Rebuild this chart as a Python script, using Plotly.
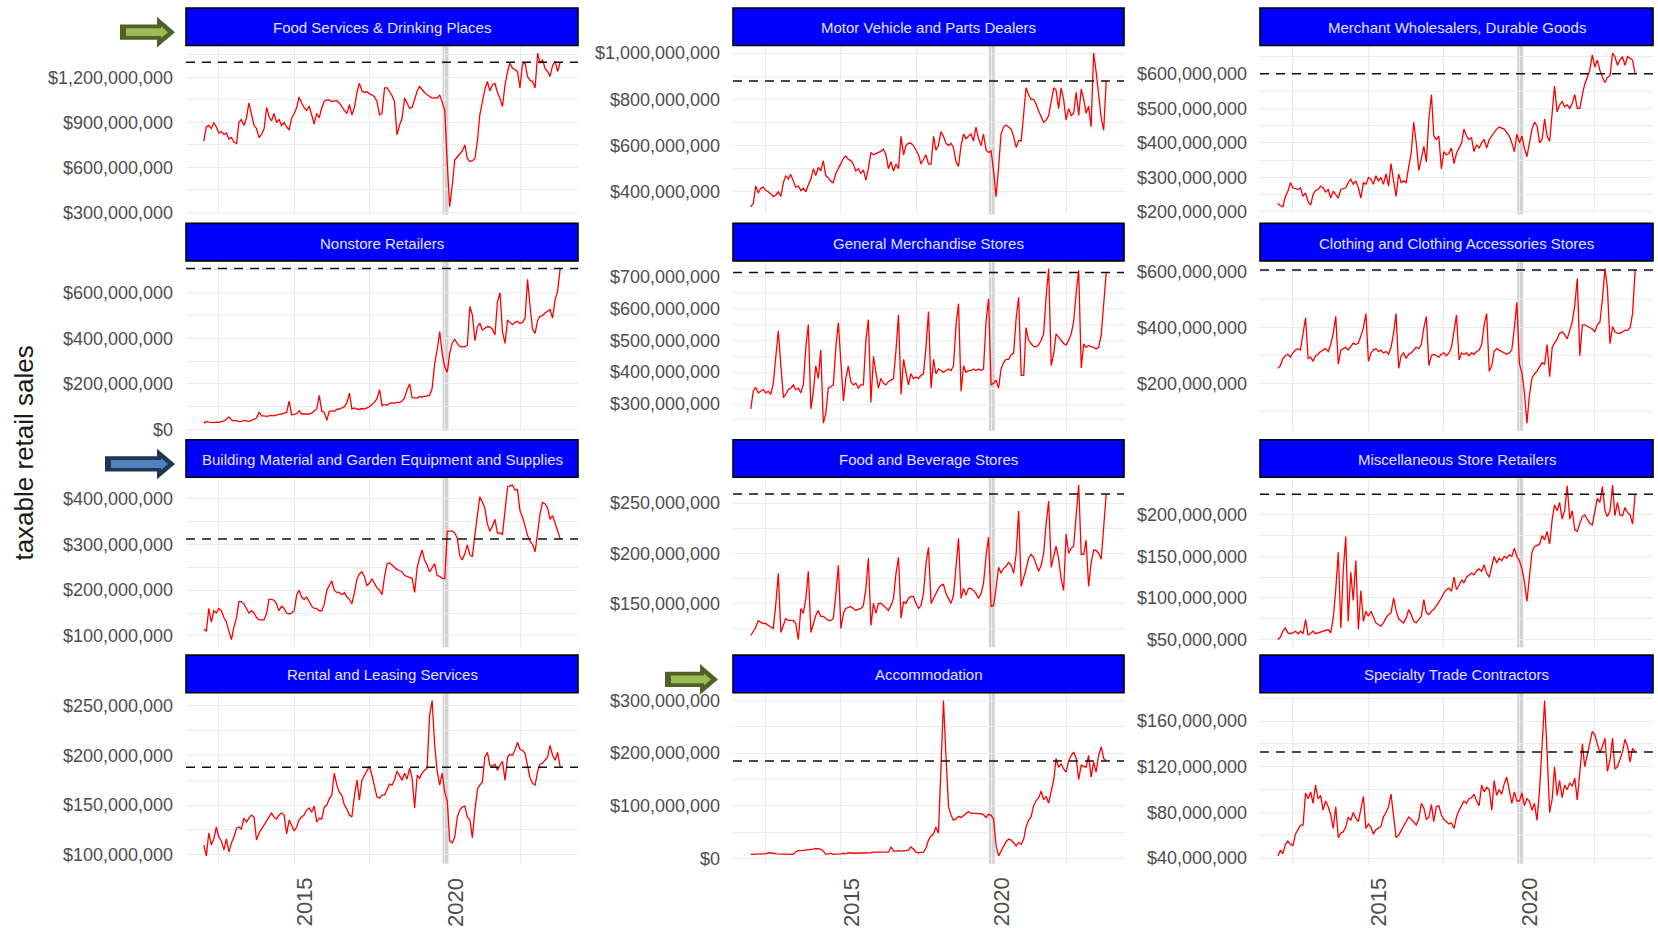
import pandas as pd
import plotly.graph_objects as go

W, H = 1658, 928

# Monthly observations, Jan 2012 .. Nov 2023
MONTHS = pd.date_range("2012-01-01", "2023-11-01", freq="MS")

PANEL_TITLES = [
    "Food Services & Drinking Places",
    "Motor Vehicle and Parts Dealers",
    "Merchant Wholesalers, Durable Goods",
    "Nonstore Retailers",
    "General Merchandise Stores",
    "Clothing and Clothing Accessories Stores",
    "Building Material and Garden Equipment and Supplies",
    "Food and Beverage Stores",
    "Miscellaneous Store Retailers",
    "Rental and Leasing Services",
    "Accommodation",
    "Specialty Trade Contractors",
]

# taxable retail sales, millions of dollars, one row per year
food_services = [
    775, 870, 880, 860, 900, 870, 830, 840, 820, 830, 790, 800,
    770, 760, 900, 920, 880, 930, 1030, 960, 880, 860, 800, 820,
    860, 1000, 940, 910, 960, 900, 920, 880, 900, 870, 850, 930,
    960, 1000, 1070, 1030, 1000, 980, 1010, 950, 890, 960, 930, 1000,
    1040, 1050, 1050, 1040, 1040, 1045, 1030, 1000, 980, 960, 1020, 950,
    1000, 1100, 1162, 1110, 1100, 1106, 1090, 1084, 1070, 1040, 950, 960,
    1130, 1130, 1106, 1080, 1040, 817, 880, 928, 1062, 1030, 995, 1000,
    1060, 1110, 1140, 1118, 1100, 1084, 1070, 1062, 1065, 1062, 1084, 1040,
    984, 620, 338, 480, 650, 670, 690, 710, 750, 660, 640, 645,
    660, 780, 950, 1030, 1120, 1173, 1110, 1150, 1160, 1100, 1060, 1006,
    1150, 1240, 1295, 1262, 1250, 1240, 1130, 1290, 1295, 1207, 1180, 1173,
    1130, 1362, 1295, 1318, 1260, 1240, 1207, 1280, 1307, 1240, 1302,
]
motor_vehicle = [
    335, 350, 425, 395, 415, 420, 405, 400, 390, 380, 385, 400,
    380, 440, 470, 455, 475, 450, 420, 425, 405, 415, 400, 430,
    455, 500, 470, 505, 490, 535, 470, 460, 445, 440, 480, 500,
    520, 545, 555, 540, 535, 520, 490, 500, 480, 495, 450, 500,
    570, 560, 565, 570, 575, 585, 560, 500, 530, 490, 520, 500,
    640, 560, 600, 610, 610, 600, 580, 560, 520, 540, 560, 520,
    520, 640, 580, 600, 660, 640, 610, 600, 610, 590, 530, 510,
    600, 650, 630, 640, 650, 620, 680, 630, 600, 650, 580, 570,
    577, 489, 378, 504, 651, 680, 689, 680, 670, 640, 592, 622,
    620, 740, 850, 820, 800, 800, 780, 750, 720, 700, 710, 730,
    790, 850, 840, 760, 850, 800, 710, 760, 730, 740, 830, 730,
    845, 800, 740, 770, 681, 1000, 920, 820, 720, 666, 880,
]
merchant_durable = [
    225, 218, 215, 245, 260, 285, 270, 268, 265, 270, 245, 255,
    230, 220, 250, 262, 265, 275, 270, 258, 265, 240, 260, 250,
    240, 265, 268, 270, 285, 295, 280, 290, 270, 240, 285, 280,
    300, 295, 280, 305, 290, 300, 280, 310, 275, 340, 290, 245,
    310, 285, 290, 285, 330, 370, 460, 400, 320, 350, 390, 345,
    470, 540, 420, 410, 420, 325, 375, 365, 370, 385, 340, 370,
    385, 400, 440, 420, 410, 415, 375, 395, 385, 400, 410, 385,
    410, 420, 430, 440, 446, 444, 440, 430, 420, 400, 375, 425,
    400, 420, 385, 360, 400, 440, 460, 450, 400, 410, 470, 420,
    405, 500, 565, 490, 510, 520, 505, 510, 500, 515, 540, 500,
    500, 540, 570, 590, 610, 655, 620, 640, 610, 590, 575, 590,
    595, 660, 650, 625, 640, 650, 625, 650, 645, 640, 600,
]
nonstore = [
    28, 35, 32, 30, 30, 32, 31, 35, 38, 45, 55, 42,
    38, 40, 35, 36, 40, 38, 35, 40, 45, 50, 75, 60,
    60, 58, 60, 62, 60, 64, 66, 68, 70, 75, 125, 65,
    66, 70, 82, 68, 68, 68, 68, 72, 80, 90, 150, 80,
    75, 40, 80, 82, 80, 88, 90, 95, 100, 118, 160, 90,
    95, 90, 88, 92, 90, 95, 100, 110, 120, 135, 175, 105,
    110, 105, 115, 118, 115, 120, 118, 125, 140, 175, 200, 140,
    140, 138, 145, 142, 145, 148, 150, 180, 289, 350, 430, 333,
    274, 252, 333, 380, 395, 378, 365, 363, 363, 370, 540, 503,
    390, 452, 466, 437, 445, 452, 450, 440, 415, 560, 600, 430,
    378, 481, 470, 460, 470, 475, 465, 470, 490, 659, 540, 440,
    422, 480, 496, 500, 511, 520, 526, 489, 570, 607, 706,
]
general_merch = [
    285, 340, 352, 335, 340, 345, 335, 340, 330, 365, 450, 530,
    420, 320, 330, 345, 350, 360, 345, 350, 335, 360, 480, 549,
    285, 340, 420, 380, 470, 240, 270, 350, 355, 360, 480, 555,
    430, 310, 380, 420, 370, 360, 365, 350, 360, 360, 500, 565,
    305, 450, 400, 350, 380, 365, 360, 370, 375, 380, 470, 580,
    330, 440, 400, 360, 395, 380, 385, 380, 390, 395, 480, 590,
    350, 440, 395, 410, 405, 400, 405, 410, 405, 420, 550, 615,
    340, 420, 400, 405, 405, 410, 405, 410, 405, 410, 560, 630,
    360, 365, 375, 350, 410, 430, 440, 440, 455, 460, 570, 635,
    390, 390, 540, 500, 490, 480, 480, 485, 500, 520, 640, 725,
    420, 460, 520, 510, 500, 490, 485, 500, 520, 560, 650, 720,
    413, 489, 478, 484, 480, 478, 473, 478, 516, 620, 713,
]
clothing = [
    255, 265, 290, 300, 305, 295, 310, 320, 325, 320, 380, 435,
    290, 295, 280, 300, 305, 315, 320, 325, 315, 340, 380, 440,
    270, 320, 325, 330, 320, 335, 345, 340, 345, 370, 400, 450,
    280, 310, 320, 325, 315, 320, 310, 315, 305, 330, 380, 450,
    255, 300, 310, 290, 305, 310, 320, 330, 325, 340, 400, 440,
    265, 300, 305, 300, 295, 305, 310, 300, 310, 330, 390, 445,
    285, 310, 305, 310, 300, 310, 305, 315, 320, 340, 410, 450,
    245, 265, 315, 325, 320, 315, 310, 305, 310, 320, 400, 490,
    270, 240, 170, 60, 160, 220, 235, 245, 260, 275, 270, 340,
    225, 330, 345, 360, 380, 385, 375, 360, 390, 420, 480, 575,
    300, 410, 410, 405, 400, 395, 385, 410, 420, 500, 610, 540,
    343, 404, 385, 380, 379, 385, 391, 390, 400, 450, 605,
]
building = [
    115, 110, 160, 130, 155, 150, 160, 155, 140, 130, 110, 92,
    120, 140, 175, 175, 170, 160, 150, 155, 150, 140, 135, 135,
    135, 150, 180, 180, 178, 170, 155, 165, 160, 150, 148, 150,
    155, 190, 200, 185, 180, 185, 175, 165, 160, 160, 155, 155,
    170, 200, 210, 220, 200, 195, 195, 190, 195, 185, 180, 170,
    195, 225, 235, 240, 230, 210, 215, 225, 215, 205, 200, 190,
    230, 258, 260, 255, 252, 245, 243, 240, 232, 230, 228, 226,
    195, 250, 270, 288, 266, 255, 240, 250, 258, 232, 230, 226,
    225, 329, 329, 329, 325, 314, 275, 266, 280, 299, 277, 273,
    322, 360, 404, 393, 380, 345, 329, 340, 355, 325, 325, 322,
    377, 426, 428, 430, 419, 420, 374, 360, 340, 320, 307, 300,
    284, 325, 366, 392, 389, 380, 355, 363, 348, 330, 312,
]
food_beverage = [
    118, 122, 126, 133, 131, 130, 130, 128, 126, 125, 150, 180,
    121, 128, 135, 133, 133, 133, 130, 114, 145, 140, 155, 182,
    121, 130, 138, 143, 137, 137, 135, 133, 133, 135, 160, 188,
    125, 140, 145, 146, 147, 145, 143, 144, 145, 148, 165, 195,
    128, 150, 140, 150, 150, 148, 145, 143, 148, 155, 180, 196,
    135, 152, 150, 155, 157, 157, 150, 145, 148, 160, 190, 206,
    150, 155, 160, 165, 168, 169, 160, 155, 150, 158, 190, 215,
    155, 165, 158, 165, 165, 163, 160, 155, 160, 170, 197, 216,
    147, 148, 165, 186, 180, 185, 187, 191, 188, 180, 200, 242,
    167, 175, 184, 195, 199, 196, 190, 182, 188, 200, 230, 252,
    186, 197, 207, 195, 175, 163, 219, 200, 205, 207, 240, 268,
    199, 199, 213, 167, 190, 203, 203, 200, 194, 230, 259,
]
misc_stores = [
    50, 53, 60, 64, 58, 57, 58, 60, 57, 60, 57, 74,
    55, 58, 60, 57, 58, 59, 60, 61, 62, 58, 76, 110,
    155, 64, 131, 174, 72, 131, 97, 145, 62, 109, 72, 84,
    78, 84, 78, 70, 68, 66, 70, 76, 80, 82, 100, 85,
    75, 72, 70, 76, 86, 80, 72, 70, 74, 78, 98, 82,
    80, 84, 86, 90, 95, 100, 106, 110, 112, 108, 125, 110,
    115, 122, 118, 125, 128, 130, 128, 133, 135, 132, 140, 130,
    125, 140, 150, 142, 148, 145, 150, 148, 152, 150, 160, 150,
    145, 135, 120, 96, 122, 155, 162, 163, 165, 175, 170, 180,
    165, 195, 212, 205, 215, 195, 205, 235, 195, 205, 182, 180,
    190, 198, 200, 195, 190, 188, 205, 220, 215, 234, 205, 198,
    205, 236, 199, 215, 200, 199, 209, 203, 200, 189, 225,
]
rental_leasing = [
    110, 99, 122, 110, 116, 128, 118, 114, 105, 116, 103, 112,
    118, 127, 128, 126, 137, 133, 137, 140, 138, 115, 122, 126,
    131, 135, 138, 142, 138, 136, 140, 142, 140, 121, 135, 130,
    124, 128, 135, 138, 140, 145, 147, 143, 149, 133, 137, 136,
    148, 150, 156, 160, 182, 170, 163, 160, 150, 146, 140, 138,
    160, 175, 155, 175, 180, 185, 189, 180, 170, 158, 157, 160,
    160, 165, 171, 170, 175, 184, 180, 175, 182, 176, 187, 177,
    147, 180, 177, 182, 185, 187, 240, 255, 210, 184, 170, 182,
    163, 154, 114, 112, 118, 138, 145, 148, 149, 138, 135, 117,
    145, 166, 170, 173, 198, 203, 190, 189, 191, 185, 190, 194,
    175, 198, 201, 200, 205, 213, 206, 205, 202, 191, 177, 172,
    170, 184, 191, 192, 195, 198, 210, 200, 195, 203, 188,
]
accommodation = [
    8, 8, 8, 8, 8, 8, 9, 11, 11, 10, 9, 9,
    8, 8, 8, 8, 8, 8, 13, 15, 15, 15, 16, 17,
    17, 18, 19, 19, 18, 14, 8, 9, 10, 8, 8, 9,
    9, 10, 9, 11, 10, 10, 10, 10, 10, 10, 11, 11,
    11, 12, 12, 11, 11, 12, 12, 12, 22, 14, 14, 15,
    14, 14, 15, 16, 22, 18, 12, 11, 12, 12, 20, 35,
    43, 47, 60, 48, 170, 300, 195, 99, 82, 73, 75, 80,
    78, 82, 86, 89, 86, 86, 86, 85, 85, 83, 78, 84,
    82, 75, 25, 5, 15, 25, 32, 37, 35, 30, 24, 30,
    27, 37, 60, 73, 79, 100, 110, 115, 128, 112, 118, 105,
    131, 150, 190, 173, 180, 170, 164, 185, 196, 202, 190, 150,
    177, 175, 173, 196, 154, 183, 164, 196, 212, 190, 185,
]
specialty_trade = [
    42, 47, 44, 52, 55, 52, 51, 61, 65, 69, 69, 97,
    92, 98, 88, 104, 92, 95, 82, 90, 85, 78, 66, 85,
    58, 62, 63, 67, 76, 73, 80, 75, 72, 84, 94, 66,
    70, 67, 61, 65, 66, 68, 76, 80, 85, 96, 78, 58,
    60, 64, 68, 72, 76, 74, 71, 69, 74, 88, 84, 74,
    76, 87, 72, 85, 86, 78, 74, 72, 70, 71, 66, 76,
    82, 86, 90, 88, 92, 93, 96, 90, 86, 104, 98, 102,
    100, 82, 108, 95, 100, 96, 105, 111, 100, 88, 98, 90,
    90, 97, 86, 92, 90, 82, 88, 73, 100, 140, 178, 133,
    80, 92, 120, 95, 108, 93, 104, 100, 106, 103, 110, 91,
    118, 140, 120, 130, 142, 151, 148, 140, 132, 138, 145, 116,
    126, 145, 118, 120, 127, 133, 144, 138, 124, 136, 133,
]

SERIES = [
    food_services, motor_vehicle, merchant_durable,
    nonstore, general_merch, clothing,
    building, food_beverage, misc_stores,
    rental_leasing, accommodation, specialty_trade,
]

# y-axis breaks per panel, millions of dollars
Y_BREAKS = [
    [300, 600, 900, 1200],
    [400, 600, 800, 1000],
    [200, 300, 400, 500, 600],
    [0, 200, 400, 600],
    [300, 400, 500, 600, 700],
    [200, 400, 600],
    [100, 200, 300, 400],
    [150, 200, 250],
    [50, 100, 150, 200],
    [100, 150, 200, 250],
    [0, 100, 200, 300],
    [40, 80, 120, 160],
]

X_BREAK_YEARS = [2015, 2020]
X_MINOR_DATES = ["2012-07-02", "2017-07-02", "2022-07-02"]
EVENT_DATE = "2020-01-10"

# marker arrows beside selected panels: (panel index, style)
HIGHLIGHTS = [(0, "green"), (6, "blue"), (10, "green")]

# ---- page geometry (pixels) ----
COL_X = [(186, 578), (733, 1124), (1260, 1653)]
ROW_Y = [(6, 44, 215), (224, 262, 434), (443, 481, 653), (661, 699, 872)]

FONT = "Liberation Sans, Arial, sans-serif"
GRID = "#EBEBEB"
TEXT_GREY = "#4D4D4D"


def px(x):
    return x / W


def py(y):
    return 1 - y / H


def path(points):
    return "M " + " L ".join(f"{px(x):.5f},{py(y):.5f}" for x, y in points) + " Z"


def arrow_points(x0, x1, y0, y1, shaft_frac=0.5, head_len=18):
    yc = (y0 + y1) / 2
    half = (y1 - y0) * shaft_frac / 2
    xh = x1 - head_len
    return [(x0, yc - half), (xh, yc - half), (xh, y0), (x1, yc),
            (xh, y1), (xh, yc + half), (x0, yc + half)]


def expand(lo, hi, frac=0.05):
    d = (hi - lo) * frac
    return lo - d, hi + d


fig = go.Figure()
shapes, annotations = [], []

t0, t1 = MONTHS[0], MONTHS[-1]
pad = (t1 - t0) * 0.05
x_range = [t0 - pad, t1 + pad]

for i, (title, vals, breaks) in enumerate(zip(PANEL_TITLES, SERIES, Y_BREAKS)):
    r, c = divmod(i, 3)
    n = i + 1
    xa = "x" if n == 1 else f"x{n}"
    ya = "y" if n == 1 else f"y{n}"
    cx0, cx1 = COL_X[c]
    s_top, p_top, p_bot = ROW_Y[r]

    y_dollars = [v * 1e6 for v in vals]
    last = y_dollars[-1]
    lo, hi = expand(min(y_dollars), max(y_dollars))

    fig.add_trace(go.Scatter(
        x=MONTHS, y=y_dollars, mode="lines",
        line=dict(color="#FF0000", width=1.3),
        xaxis=xa, yaxis=ya, showlegend=False, hoverinfo="skip",
    ))

    step = breaks[1] - breaks[0]
    minor = [b - step / 2 for b in breaks] + [breaks[-1] + step / 2]

    fig.layout[f"xaxis{'' if n == 1 else n}"] = dict(
        domain=[px(cx0), px(cx1)], anchor=ya, type="date", range=x_range,
        tickmode="array",
        tickvals=[f"{yr}-01-01" for yr in X_BREAK_YEARS],
        showticklabels=False, ticks="",
        showgrid=True, gridcolor=GRID, gridwidth=1.3,
        minor=dict(tickmode="array", tickvals=X_MINOR_DATES,
                   showgrid=True, gridcolor=GRID, gridwidth=0.7),
        zeroline=False, showline=False, fixedrange=True,
    )
    fig.layout[f"yaxis{'' if n == 1 else n}"] = dict(
        domain=[py(p_bot), py(p_top)], anchor=xa, range=[lo, hi],
        tickmode="array", tickvals=[b * 1e6 for b in breaks],
        tickformat="$,.0f",
        tickfont=dict(family=FONT, size=18, color=TEXT_GREY),
        ticks="", ticklabelstandoff=12,
        showgrid=True, gridcolor=GRID, gridwidth=1.3,
        minor=dict(tickmode="array", tickvals=[m * 1e6 for m in minor],
                   showgrid=True, gridcolor=GRID, gridwidth=0.7),
        zeroline=False, showline=False, fixedrange=True,
    )

    # year labels under the bottom row, rotated
    if r == 3:
        for yr in X_BREAK_YEARS:
            annotations.append(dict(
                text=str(yr), x=f"{yr}-01-01", xref=xa, y=0, yref=f"{ya} domain",
                xanchor="center", yanchor="top", textangle=-90,
                xshift=10, yshift=-12, showarrow=False,
                font=dict(family=FONT, size=22, color=TEXT_GREY)))

    # reference band at the start of 2020
    shapes.append(dict(type="line", xref=xa, yref=f"{ya} domain",
                       x0=EVENT_DATE, x1=EVENT_DATE, y0=0, y1=1,
                       line=dict(color="rgba(175,175,175,0.55)", width=6),
                       layer="below"))
    # dashed line at the latest month's value
    shapes.append(dict(type="line", xref=f"{xa} domain", yref=ya,
                       x0=0, x1=1, y0=last, y1=last,
                       line=dict(color="#111111", width=1.5, dash="9px,7px"),
                       layer="above"))
    # facet strip
    shapes.append(dict(type="rect", xref="paper", yref="paper",
                       x0=px(cx0), x1=px(cx1), y0=py(p_top), y1=py(s_top),
                       fillcolor="#0000FF", line=dict(color="#000000", width=1.6),
                       layer="above"))
    annotations.append(dict(text=title, xref="paper", yref="paper",
                            x=px((cx0 + cx1) / 2), y=py((s_top + p_top) / 2 + 1),
                            xanchor="center", yanchor="middle", showarrow=False,
                            font=dict(family=FONT, size=15, color="#E4E4FF")))

ARROW_STYLE = {
    "green": ("#4F6228", "#9BBB59"),
    "blue": ("#1F3553", "#4F81BD"),
}
for idx, style in HIGHLIGHTS:
    r, c = divmod(idx, 3)
    s_top, p_top, _ = ROW_Y[r]
    x1 = COL_X[c][0] - (11 if c == 0 else 15)
    x0 = x1 - (55 if c == 0 and style == "green" else 70 if style == "blue" else 53)
    y0, y1 = s_top + 9, p_top + 2
    outer, inner = ARROW_STYLE[style]
    shapes.append(dict(type="path", xref="paper", yref="paper",
                       path=path(arrow_points(x0, x1, y0, y1, 0.5, 18)),
                       fillcolor=outer, line=dict(width=0), layer="above"))
    yc = (y0 + y1) / 2
    shapes.append(dict(type="path", xref="paper", yref="paper",
                       path=path([(x0 + 6, yc - 4), (x1 - 14, yc - 4),
                                  (x1 - 14, yc - 6), (x1 - 7, yc),
                                  (x1 - 14, yc + 6), (x1 - 14, yc + 4),
                                  (x0 + 6, yc + 4)]),
                       fillcolor=inner, line=dict(width=0), layer="above"))

annotations.append(dict(text="taxable retail sales", xref="paper", yref="paper",
                        x=px(24), y=py(457), textangle=-90, showarrow=False,
                        xanchor="center", yanchor="middle",
                        font=dict(family=FONT, size=26, color="#1A1A1A")))

fig.update_layout(
    width=W, height=H,
    margin=dict(l=0, r=0, t=0, b=0),
    paper_bgcolor="white", plot_bgcolor="white",
    shapes=shapes, annotations=annotations,
    showlegend=False,
)

fig.write_html("out.html", include_plotlyjs=True, config={"displayModeBar": False})
